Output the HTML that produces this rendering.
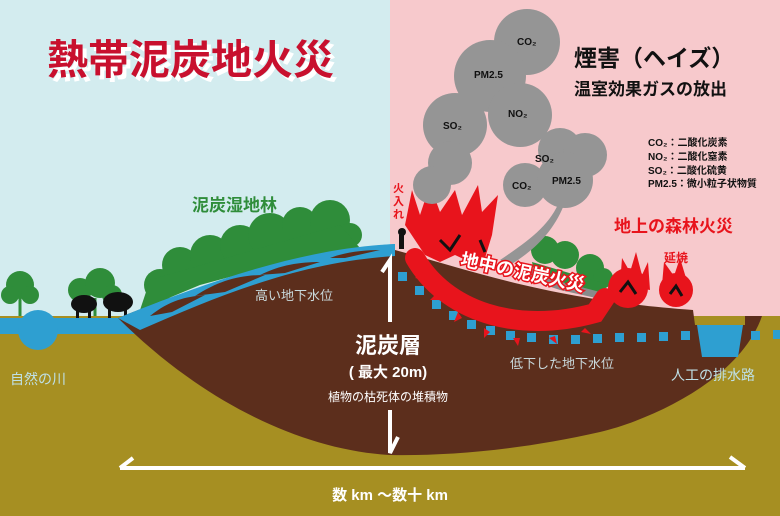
<!DOCTYPE html>
<html><head><meta charset="utf-8"><style>
html,body{margin:0;padding:0;}
svg{display:block;font-family:"Liberation Sans","Noto Sans CJK JP",sans-serif;font-weight:bold;}
</style></head><body>
<svg width="780" height="516" viewBox="0 0 780 516" xmlns="http://www.w3.org/2000/svg">
<rect x="0" y="0" width="390" height="320" fill="#d3ecef"/>
<rect x="390" y="0" width="390" height="330" fill="#f7c9cc"/>
<rect x="0" y="316" width="780" height="200" fill="#a68f22"/>
<g fill="#2f8d3a">
<circle cx="20" cy="285" r="14"/><circle cx="10" cy="295" r="9"/><circle cx="30" cy="295" r="9"/>
<circle cx="80" cy="290" r="12"/><circle cx="100" cy="283" r="15"/><circle cx="112" cy="295" r="10"/>
<circle cx="160" cy="285" r="16"/><circle cx="180" cy="265" r="18"/><circle cx="210" cy="255" r="20"/><circle cx="240" cy="245" r="20"/><circle cx="270" cy="235" r="22"/><circle cx="300" cy="225" r="18"/><circle cx="330" cy="220" r="20"/><circle cx="350" cy="235" r="12"/>
<path d="M140,310 L150,280 L340,225 L360,248 L300,258 L200,285 Z"/>
</g>
<g stroke="#2f8d3a" stroke-width="3"><path d="M20,298 V316 M95,298 V316"/></g>
<g fill="#111">
<ellipse cx="84" cy="304" rx="13" ry="9"/><ellipse cx="118" cy="302" rx="15" ry="10"/>
<rect x="76" y="308" width="3" height="10"/><rect x="88" y="308" width="3" height="10"/><rect x="108" y="308" width="3" height="10"/><rect x="124" y="308" width="3" height="10"/>
</g>
<path d="M0,318 L130,318 C220,290 300,250 395,244 L395,258 C300,266 220,300 140,334 L0,334 Z" fill="#2e9fd1"/>
<circle cx="38" cy="330" r="20" fill="#2e9fd1"/>
<path d="M118,318 C200,285 300,255 392,252 L395,250 C470,270 550,300 693,310 L695,325 L745,325 L745,316 L762,316 C740,380 650,420 600,432 C520,450 450,456 390,455 C300,450 200,400 118,318 Z" fill="#5c2e1c"/>
<path d="M118,318 C200,285 300,248 395,244 L395,256 C300,262 220,295 140,330 Z" fill="#2e9fd1"/>
<path d="M150,316 C170,300 185,297 205,295 L172,312 Z M195,296 C220,280 240,275 265,275 L225,292 Z M260,275 C280,265 300,262 320,262 L285,273Z M330,258 C345,252 365,250 380,250 L345,258Z" fill="#5c2e1c"/>
<path d="M697,325 L743,325 L738,357 L702,357 Z" fill="#2e9fd1"/>
<g fill="#2e9fd1">
<rect x="398" y="272" width="9" height="9"/><rect x="415" y="286" width="9" height="9"/><rect x="432" y="300" width="9" height="9"/><rect x="449" y="311" width="9" height="9"/><rect x="467" y="320" width="9" height="9"/><rect x="486" y="326" width="9" height="9"/><rect x="506" y="331" width="9" height="9"/><rect x="527" y="333" width="9" height="9"/><rect x="549" y="335" width="9" height="9"/><rect x="571" y="335" width="9" height="9"/><rect x="593" y="334" width="9" height="9"/><rect x="615" y="333" width="9" height="9"/><rect x="637" y="333" width="9" height="9"/><rect x="659" y="332" width="9" height="9"/><rect x="681" y="331" width="9" height="9"/><rect x="751" y="331" width="9" height="9"/><rect x="773" y="330" width="9" height="9"/>
</g>
<path d="M515,275 L530,268 L600,285 L605,300 L560,290 Z" fill="#8a8a8a"/>
<g fill="#2f8d3a"><circle cx="545" cy="250" r="14"/><circle cx="565" cy="255" r="14"/><circle cx="590" cy="268" r="14"/><circle cx="603" cy="278" r="10"/><path d="M532,262 L610,285 L600,292 L535,275Z"/></g>
<path d="M500,260 C530,240 550,225 560,200 L565,202 C555,230 535,250 510,265 Z" fill="#959595"/>
<!-- fire -->
<g fill="#e8141c">
<path d="M405,225 L412,190 L420,215 L430,185 L440,212 L455,190 L462,215 L478,185 L482,212 L498,195 L492,235 L485,258 L470,262 L455,255 L440,262 L425,255 Z"/>
<path d="M620,285 L622,258 L630,272 L636,252 L642,275 L648,262 L650,290 Z"/>
<circle cx="628" cy="288" r="20"/><circle cx="676" cy="290" r="17"/>
<path d="M662,285 L664,262 L674,276 L680,258 L686,278 L692,285 Z"/>
</g>
<path d="M415,258 C445,310 515,335 595,313 L605,298" stroke="#e8141c" stroke-width="20" fill="none" stroke-linecap="round"/>
<g fill="#e8141c">
<path d="M425,280 l-10,-2 l8,-6 z M440,300 l-10,0 l8,-8 z M462,318 l-8,4 l4,-10 z M490,332 l-6,6 l0,-10 z M520,338 l-2,8 l-5,-8 z M555,336 l2,8 l-8,-6 z M585,328 l6,6 l-10,-2 z"/>
</g>
<path d="M440,240 L450,250 L460,235 M480,240 L485,252 M620,292 L628,282 L636,294 M670,294 L676,286 L682,296" stroke="#111" stroke-width="3" fill="none"/>
<circle cx="402" cy="232" r="4" fill="#111"/><rect x="399" y="235" width="5" height="14" fill="#111"/>
<g fill="#959595">
<circle cx="527" cy="42" r="33"/><circle cx="490" cy="76" r="36"/><circle cx="520" cy="115" r="32"/><circle cx="455" cy="125" r="32"/><circle cx="450" cy="163" r="22"/><circle cx="432" cy="185" r="19"/>
<circle cx="560" cy="150" r="22"/><circle cx="585" cy="155" r="22"/><circle cx="525" cy="185" r="22"/><circle cx="565" cy="180" r="28"/>
</g>
<g font-size="10" fill="#111" font-weight="bold">
<text x="517" y="45">CO₂</text><text x="474" y="78">PM2.5</text><text x="508" y="117">NO₂</text><text x="443" y="129">SO₂</text>
<text x="535" y="162">SO₂</text><text x="512" y="189">CO₂</text><text x="552" y="184">PM2.5</text>
</g>
<text x="51" y="78" font-size="41" fill="#fff">熱帯泥炭地火災</text>
<text x="47" y="74" font-size="41" fill="#c8102e">熱帯泥炭地火災</text>
<text x="574" y="66" font-size="23" fill="#111">煙害（ヘイズ）</text>
<text x="574" y="95" font-size="17" fill="#111">温室効果ガスの放出</text>
<g font-size="10" fill="#111"><text x="648" y="146">CO₂：二酸化炭素</text><text x="648" y="160">NO₂：二酸化窒素</text><text x="648" y="174">SO₂：二酸化硫黄</text><text x="648" y="187">PM2.5：微小粒子状物質</text></g>
<text x="192" y="211" font-size="17" fill="#2f8d3a">泥炭湿地林</text>
<text x="614" y="232" font-size="17" fill="#e8141c">地上の森林火災</text>
<text x="664" y="262" font-size="12" fill="#e8141c">延焼</text>
<text x="393" y="192" font-size="11" fill="#e8141c">火</text><text x="393" y="205" font-size="11" fill="#e8141c">入</text><text x="393" y="218" font-size="11" fill="#e8141c">れ</text>
<text x="458" y="278" font-size="18" fill="#fff" stroke="#e8141c" stroke-width="3" paint-order="stroke" transform="rotate(12 520 280)">地中の泥炭火災</text>
<text x="255" y="300" font-size="13" fill="#c9d9dc" font-weight="normal">高い地下水位</text>
<text x="510" y="368" font-size="13" fill="#c9d9dc" font-weight="normal">低下した地下水位</text>
<text x="671" y="380" font-size="14" fill="#bfe0e6" font-weight="normal">人工の排水路</text>
<text x="10" y="384" font-size="14" fill="#bfe0e6" font-weight="normal">自然の川</text>
<g stroke="#fff" stroke-width="4" fill="none">
<path d="M390,322 L390,260 L382,272"/>
<path d="M390,410 L390,453 L398,437"/>
<path d="M120,468 L745,468 M120,468 L133,458 M745,468 L730,457"/>
</g>
<text x="388" y="353" font-size="22" fill="#fff" text-anchor="middle">泥炭層</text>
<text x="388" y="377" font-size="15" fill="#fff" text-anchor="middle">( 最大 20m)</text>
<text x="388" y="401" font-size="12" fill="#fff" text-anchor="middle" font-weight="normal">植物の枯死体の堆積物</text>
<text x="390" y="500" font-size="15" fill="#fff" text-anchor="middle">数 km ～数十 km</text>
</svg>
</body></html>
